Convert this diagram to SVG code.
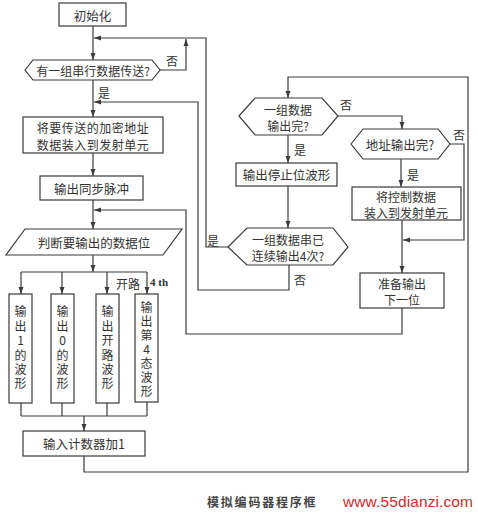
<svg xmlns="http://www.w3.org/2000/svg" width="478" height="513" viewBox="0 0 478 513">
<style>
.b{fill:#fff;stroke:#3a3a3a;stroke-width:1.2}
.l{fill:none;stroke:#3a3a3a;stroke-width:1.2}
.t{font-family:"Noto Sans CJK SC","Liberation Serif",serif;font-size:12.5px;fill:#333;text-anchor:middle;dominant-baseline:central}
.t2{font-size:12px}
.v{font-family:"Noto Sans CJK SC","Liberation Serif",serif;font-size:12px;fill:#333;text-anchor:middle;writing-mode:vertical-rl;text-orientation:upright;letter-spacing:2.4px}
.s{font-family:"Noto Sans CJK SC","Liberation Serif",serif;font-size:12px;fill:#333;dominant-baseline:central}
</style>
<defs>
<marker id="a" viewBox="0 0 10 10" refX="10" refY="5" markerWidth="7" markerHeight="7" markerUnits="userSpaceOnUse" orient="auto">
<path d="M0,1.5 L10,5 L0,8.5 Z" fill="#3a3a3a"/>
</marker>
</defs>
<rect width="478" height="513" fill="#fff"/>
<g id="connectors">
<path class="l" d="M93,26 V60" marker-end="url(#a)"/>
<path class="l" d="M228,247 H206 V38 H94" marker-end="url(#a)"/>
<path class="l" d="M160,70 H186 V39" marker-end="url(#a)"/>
<path class="l" d="M93,80 V117" marker-end="url(#a)"/>
<path class="l" d="M289,265 V290 H198 V102 H94" marker-end="url(#a)"/>
<path class="l" d="M93,153 V176" marker-end="url(#a)"/>
<path class="l" d="M93,200 V229" marker-end="url(#a)"/>
<path class="l" d="M402,308 V334 H186 V210 H94" marker-end="url(#a)"/>
<path class="l" d="M93,255 V272"  marker-end="url(#a)"/>
<path class="l" d="M21,272 H147"/>
<path class="l" d="M21,272 V294" marker-end="url(#a)"/>
<path class="l" d="M62,272 V294" marker-end="url(#a)"/>
<path class="l" d="M107,272 V294" marker-end="url(#a)"/>
<path class="l" d="M147,272 V294" marker-end="url(#a)"/>
<path class="l" d="M21,403 V416 M62,403 V416 M107,403 V416 M147,402 V416 M21,416 H147"/>
<path class="l" d="M84,416 V431" marker-end="url(#a)"/>
<path class="l" d="M84,456 V472 H468 V77 H288 V98" marker-end="url(#a)"/>
<path class="l" d="M288,135 V163" marker-end="url(#a)"/>
<path class="l" d="M288,186 V228" marker-end="url(#a)"/>
<path class="l" d="M338,116 H402 V129" marker-end="url(#a)"/>
<path class="l" d="M401,159 V187" marker-end="url(#a)"/>
<path class="l" d="M450,144 H464 V240 H403" marker-end="url(#a)"/>
<path class="l" d="M402,220 V273" marker-end="url(#a)"/>
<text class="s" x="166" y="60">否</text>
<text class="s" x="98" y="92">是</text>
<text class="s" x="294" y="149">是</text>
<text class="s" x="340" y="104">否</text>
<text class="s" x="407" y="174">是</text>
<text class="s" x="453" y="134">否</text>
<text class="s" x="207" y="240">是</text>
<text class="s" x="294" y="279">否</text>
<text class="s" x="116" y="283">开路</text>
<text class="s" x="150" y="282" style="font-family:'Liberation Serif',serif;font-weight:bold;font-size:11px">4 th</text>
</g>
<g id="init"><rect class="b" x="59" y="3" width="67" height="23"/><text class="t" x="92.5" y="15">初始化</text></g>
<g id="q1"><polygon class="b" points="25,70 33,60 152,60 160,70 152,80 33,80"/><text class="t" x="93" y="70" style="font-size:12px">有一组串行数据传送?</text></g>
<g id="load"><rect class="b" x="23" y="117" width="140" height="36"/><text class="t t2" style="letter-spacing:0.5px"><tspan x="93" y="127">将要传送的加密地址</tspan><tspan x="93" y="143.5">数据装入到发射单元</tspan></text></g>
<g id="sync"><rect class="b" x="40" y="176" width="103" height="24"/><text class="t" x="91.5" y="188">输出同步脉冲</text></g>
<g id="judge"><polygon class="b" points="25,229 182,229 163,255 6,255"/><text class="t" x="94" y="242">判断要输出的数据位</text></g>
<g id="w1"><rect class="b" x="9" y="294" width="23" height="109"/><text class="v" x="20.5" y="349">输出1的波形</text></g>
<g id="w0"><rect class="b" x="51" y="294" width="23" height="109"/><text class="v" x="62.5" y="349">输出0的波形</text></g>
<g id="wopen"><rect class="b" x="96" y="294" width="23" height="109"/><text class="v" x="107.5" y="349">输出开路波形</text></g>
<g id="w4"><rect class="b" x="135" y="294" width="23" height="108"/><text class="v" x="146.5" y="350" style="letter-spacing:2px">输出第4态波形</text></g>
<g id="count"><rect class="b" x="23" y="431" width="122" height="25"/><text class="t" x="84" y="443.5">输入计数器加1</text></g>
<g id="q2"><polygon class="b" points="239,116 255,98 322,98 338,116 322,135 255,135"/><text class="t t2"><tspan x="288" y="109">一组数据</tspan><tspan x="288" y="125">输出完?</tspan></text></g>
<g id="stop"><rect class="b" x="236" y="163" width="101" height="23"/><text class="t" x="286.5" y="174.5">输出停止位波形</text></g>
<g id="q3"><polygon class="b" points="228,247 247,228 333,228 348,247 333,265 247,265"/><text class="t t2"><tspan x="288" y="239">一组数据串已</tspan><tspan x="288" y="255">连续输出4次?</tspan></text></g>
<g id="q4"><polygon class="b" points="351,144 363,129 438,129 450,144 438,159 363,159"/><text class="t" x="400" y="144">地址输出完?</text></g>
<g id="ctrl"><rect class="b" x="352" y="187" width="109" height="33"/><text class="t t2"><tspan x="406" y="196">将控制数据</tspan><tspan x="406" y="212">装入到发射单元</tspan></text></g>
<g id="next"><rect class="b" x="360" y="273" width="84" height="35"/><text class="t t2"><tspan x="402" y="282.5">准备输出</tspan><tspan x="402" y="299">下一位</tspan></text></g>
<text x="207" y="507" style="font-family:'Noto Sans CJK SC',sans-serif;font-size:12px;font-weight:bold;fill:#444;letter-spacing:1.8px">模拟编码器程序框</text>
<text x="343" y="507" textLength="130" style="font-family:'Liberation Sans',sans-serif;font-size:15.5px;fill:#d42a2a">www.55dianzi.com</text>
</svg>
